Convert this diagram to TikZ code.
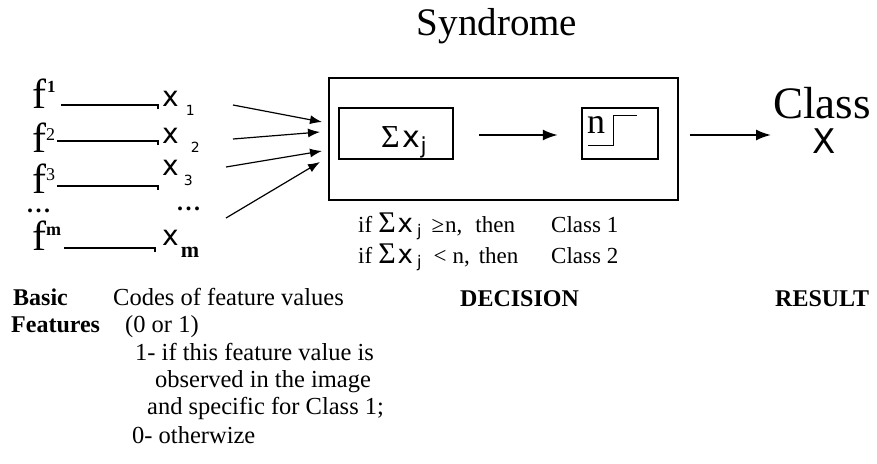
\documentclass[tikz,border=0pt]{standalone}
\usepackage{fontspec}
\setmainfont{Liberation Serif}
\newfontfamily\sx{DejaVu Sans}
\usetikzlibrary{arrows.meta,calc}
\newcommand\fsz[1]{\fontsize{#1}{#1}\selectfont}
\newcommand\bdots{\textbf{.\hspace{2.5pt}.\hspace{2.5pt}.}}
\begin{document}
\begin{tikzpicture}[x=1pt,y=-1pt,
  txt/.style={inner sep=0pt,anchor=base west},
  ctxt/.style={inner sep=0pt,anchor=base},
  fline/.style={line width=1.3pt},
  arr/.style={line width=1.2pt,-{Latex[length=12pt,width=9pt]}},
  bigarr/.style={line width=2pt,-{Latex[length=15pt,width=11pt]}},
  outerbox/.style={draw,line width=1.3pt,inner sep=0pt},
  innerbox/.style={draw,line width=2.4pt,inner sep=0pt},
  lbl/.style={inner sep=0pt,anchor=base west,font=\fsz{24.5}},
  blbl/.style={inner sep=0pt,anchor=base west,font=\fsz{24}\bfseries}]
\useasboundingbox (0,0) rectangle (877,463);

% title
\node[ctxt] (title) at (497,35) {\fsz{39}Syndrome};

% basic features
\node[txt] (f1) at (32,108) {\fsz{42}f\hspace{1pt}\raisebox{16pt}{\fsz{17}\bfseries 1}};
\node[txt] (f2) at (32,152) {\fsz{42}f\raisebox{12pt}{\fsz{18}2}};
\node[txt] (f3) at (32,193) {\fsz{42}f\raisebox{13pt}{\fsz{18}3}};
\node[txt] (fdots) at (27,212) {\fsz{24}\bdots};
\node[txt] (fm) at (32,250) {\fsz{42}f\raisebox{15pt}{\fsz{18}\bfseries m}};

% codes
\node[txt] (x1) at (162,106) {\fsz{28}\sx x\hspace{7pt}\raisebox{-9pt}{\fsz{14}1}};
\node[txt] (x2) at (162,143) {\fsz{28}\sx x\hspace{12pt}\raisebox{-9pt}{\fsz{14}2}};
\node[txt] (x3) at (162,175) {\fsz{28}\sx x\hspace{5pt}\raisebox{-10pt}{\fsz{14}3}};
\node[txt] (xdots) at (177,210) {\fsz{24}\bdots};
\node[txt] (xm) at (162,245) {\fsz{28}\sx x\hspace{2pt}\raisebox{-12pt}{\fsz{22}\rmfamily\bfseries m}};

% feature -> code lines
\draw[fline] ($(f1.base east)+(5,-3)$) -- ($(f1.base east -| x1.base west)+(-4,-3)$) -- ++(0,4);
\draw[fline] ($(f2.base east)+(2,-11)$) -- ($(f2.base east -| x2.base west)+(-4,-11)$) -- ++(0,4);
\draw[fline] ($(f3.base east)+(2,-7)$) -- ($(f3.base east -| x3.base west)+(-4,-7)$) -- ++(0,4);
\draw[fline] ($(fm.base east)+(3,-2)$) -- ($(fm.base east -| xm.base west)+(-7,-2)$) -- ++(0,4);

% decision box
\node[outerbox,minimum width=349pt,minimum height=122pt] (dec) at (503.5,139) {};
\node[innerbox,minimum width=114pt,minimum height=51pt] (sum) at (396,133.5) {};
\node[innerbox,minimum width=76pt,minimum height=51pt] (thr) at (620,133.5) {};
\node[txt] (sumtxt) at (381,147) {\fsz{32}Σ\hspace{3pt}{\fsz{30}\sx x}\raisebox{-6pt}{\fsz{22}\sx j}};
\node[txt] (ntxt) at (587,133) {\fsz{36}n};
\draw[line width=1pt] (588,145) -- (613,145) -- (613,115) -- (637,115);

% code -> decision arrows
\coordinate (t1) at (233,105); \coordinate (h1) at (322,122);
\coordinate (t2) at (233,139); \coordinate (h2) at (320,132);
\coordinate (t3) at (226,167); \coordinate (h3) at (322,151);
\coordinate (t4) at (226,218); \coordinate (h4) at (320,162);
\draw[arr] (t1) -- (h1);
\draw[arr] (t2) -- (h2);
\draw[arr] (t3) -- (h3);
\draw[arr] (t4) -- (h4);

\draw[bigarr] ($(sum.east)+(25,1.5)$) -- ($(thr.west)+(-23,1.5)$);

% result
\node[ctxt] (cls) at (822,118) {\fsz{45}Class};
\node[ctxt] (clsx) at (824,153) {\fsz{34}\sx X};
\draw[bigarr] ($(dec.east |- sum.east)+(11,1.5)$) -- ($(cls.west |- sum.east)+(-2,1.5)$);

% conditions
\node[txt] (c1) at (358,232) {\fsz{23}if\hspace{6pt}{\fsz{30}Σ}\hspace{2pt}{\fsz{26}\sx x}\hspace{4pt}\raisebox{-4pt}{\fsz{16}\sx j}\hspace{10pt}≥\hspace{1pt}n,\hspace{13pt}then};
\node[txt] (k1) at (551,232) {\fsz{23}Class 1};
\node[txt] (c2) at (358,263) {\fsz{23}if\hspace{6pt}{\fsz{30}Σ}\hspace{2pt}{\fsz{26}\sx x}\hspace{4pt}\raisebox{-4pt}{\fsz{16}\sx j}\hspace{12pt}<\hspace{6pt}n,\hspace{9pt}then};
\node[txt] (k2) at (551,263) {\fsz{23}Class 2};

% bottom labels
\node[blbl] (basic) at (13,305) {Basic};
\node[blbl] (feat) at (11,332) {Features};
\node[lbl] (codes) at (113,305) {Codes of feature values};
\node[lbl] (zo) at (125,332) {(0 or 1)};
\node[lbl] (l1) at (135,360) {1- if this feature value is};
\node[lbl] (l2) at (155,387) {observed in the image};
\node[lbl] (l3) at (147,414) {and specific for Class 1;};
\node[lbl] (l4) at (132,443) {0- otherwize};
\node[blbl] (decl) at (460,306) {DECISION};
\node[blbl] (res) at (775,306) {RESULT};
\end{tikzpicture}
\end{document}
